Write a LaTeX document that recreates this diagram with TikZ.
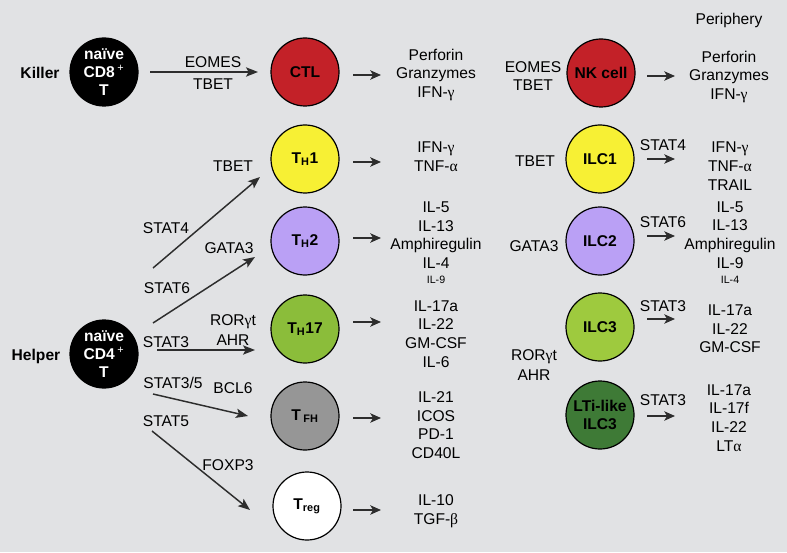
\documentclass[tikz,border=0pt]{standalone}
\usepackage{fontspec}
\setmainfont{Liberation Sans}
\newfontfamily\grk{Liberation Serif}
\usetikzlibrary{arrows.meta}
\definecolor{bg}{RGB}{225,226,228}
\definecolor{ctlred}{RGB}{195,33,40}
\definecolor{thyellow}{RGB}{247,240,52}
\definecolor{lavender}{RGB}{186,160,245}
\definecolor{thgreen}{RGB}{139,189,58}
\definecolor{tfhgray}{RGB}{150,150,150}
\definecolor{ilcgreen}{RGB}{158,202,62}
\definecolor{ltigreen}{RGB}{62,122,54}
\definecolor{arrowgray}{RGB}{45,45,45}
\newcommand{\gam}{{\grk γ}}
\newcommand{\alp}{{\grk α}}
\newcommand{\bet}{{\grk β}}
\begin{document}
\begin{tikzpicture}[x=0.75pt,y=-0.75pt,
  cell/.style={circle,draw=black,line width=0.9pt,minimum size=51pt,inner sep=0pt,
    font=\bfseries\fontsize{11.7}{13.5}\selectfont,align=center},
  txt/.style={font=\fontsize{11.7}{14}\selectfont,align=center,inner sep=0pt},
  lbl/.style={font=\bfseries\fontsize{11.7}{14}\selectfont,inner sep=0pt},
  tinytxt/.style={font=\fontsize{8}{9}\selectfont,inner sep=0pt},
  conn/.style={draw=arrowgray,line width=1.1pt,-{Stealth[length=9pt,width=7pt,inset=2pt]}},
  shortarr/.style={draw=arrowgray,line width=1.3pt,-{Stealth[length=8pt,width=7pt,inset=2pt]}}]

\fill[bg] (0,0) rectangle (787,552);
\useasboundingbox (0,0) rectangle (787,552);

% ---------- headings ----------
\node[txt] (periphery) at (729,20) {Periphery};
\node[lbl] (killer) at (40,73) {Killer};
\node[lbl] (helper) at (36,356) {Helper};

% ---------- naive cells ----------
\node[cell,fill=black,text=white] (cd8) at (104,72) {naïve\\CD8\,\textsuperscript{\mdseries+}\\T};
\node[cell,fill=black,text=white] (cd4) at (104,354) {naïve\\CD4\,\textsuperscript{\mdseries+}\\T};

% ---------- T cells ----------
\node[cell,fill=ctlred] (ctl) at (305,72) {CTL};
\node[cell,fill=thyellow] (th1) at (305,159) {T\textsubscript{H}1};
\node[cell,fill=lavender] (th2) at (305,241) {T\textsubscript{H}2};
\node[cell,fill=thgreen] (th17) at (305,329) {T\textsubscript{H}17};
\node[cell,fill=tfhgray] (tfh) at (305,416) {T\,\textsubscript{FH}};
\node[cell,fill=white] (treg) at (307,506) {T\textsubscript{reg}};

% ---------- ILCs ----------
\node[cell,fill=ctlred] (nk) at (601,73) {NK cell};
\node[cell,fill=thyellow] (ilc1) at (600,159) {ILC1};
\node[cell,fill=lavender] (ilc2) at (600,241) {ILC2};
\node[cell,fill=ilcgreen] (ilc3) at (600,327) {ILC3};
\node[cell,fill=ltigreen] (lti) at (600,415) {LTi-like\\ILC3};

% ---------- CD8 -> CTL ----------
\coordinate (k0) at (150,72);
\coordinate (k1) at (258,72);
\draw[conn] (k0) -- (k1);
\node[txt] (eomesL) at (213,62) {EOMES};
\node[txt] (tbetL) at (213,84) {TBET};

% ---------- CD4 -> helpers ----------
\coordinate (s1) at (153,268); \coordinate (e1) at (260,177);
\coordinate (s2) at (153,323); \coordinate (e2) at (255,257);
\coordinate (s3) at (157,350); \coordinate (e3) at (255,350);
\coordinate (s4) at (153,394); \coordinate (e4) at (248,416);
\coordinate (s5) at (152,431); \coordinate (e5) at (250,510);
\draw[conn] (s1) -- (e1);
\draw[conn] (s2) -- (e2);
\draw[conn] (s3) -- (e3);
\draw[conn] (s4) -- (e4);
\draw[conn] (s5) -- (e5);

\node[txt] (tbet1) at (233,166) {TBET};
\node[txt] (stat4) at (166,228) {STAT4};
\node[txt] (gata3) at (229,248) {GATA3};
\node[txt] (stat6) at (167,288) {STAT6};
\node[txt] (rorL) at (233,322) {ROR\gam t};
\node[txt] (ahrL) at (233,340) {AHR};
\node[txt] (stat3) at (166,342) {STAT3};
\node[txt] (stat35) at (173,383) {STAT3/5};
\node[txt] (bcl6) at (233,388) {BCL6};
\node[txt] (stat5) at (166,421) {STAT5};
\node[txt] (foxp3) at (228,465) {FOXP3};

% ---------- short arrows, left ----------
\foreach \n/\y in {ctl/75,th1/162,th2/238,th17/322,tfh/418,treg/510}{
  \coordinate (\n a) at (353,\y);
  \coordinate (\n b) at (381,\y);
  \draw[shortarr] (\n a) -- (\n b);
}

% ---------- outputs, left ----------
\node[txt] (ctlout) at (436,75) {Perforin\\Granzymes\\IFN-\gam};
\node[txt] (th1out) at (436,157) {IFN-\gam\\TNF-\alp};
\node[txt] (th2out) at (436,235) {IL-5\\IL-13\\Amphiregulin\\IL-4};
\node[tinytxt] (th2il9) at (436,280) {IL-9};
\node[txt] (th17out) at (436,334) {IL-17a\\IL-22\\GM-CSF\\IL-6};
\node[txt] (tfhout) at (436,425) {IL-21\\ICOS\\PD-1\\CD40L};
\node[txt] (tregout) at (436,511) {IL-10\\TGF-\bet};

% ---------- ILC side labels ----------
\node[txt] (eomesR) at (533,67) {EOMES};
\node[txt] (tbetR) at (533,85) {TBET};
\node[txt] (tbetI) at (535,161) {TBET};
\node[txt] (gataI) at (534,246) {GATA3};
\node[txt] (rorI) at (534,357) {ROR\gam t};
\node[txt] (ahrI) at (534,375) {AHR};
\node[txt] (stat4I) at (663,145) {STAT4};
\node[txt] (stat6I) at (663,222) {STAT6};
\node[txt] (stat3I) at (663,306) {STAT3};
\node[txt] (stat3L) at (663,400) {STAT3};

% ---------- short arrows, right ----------
\foreach \n/\y in {nk/76,ilc1/159,ilc2/236,ilc3/319,lti/416}{
  \coordinate (\n a) at (647,\y);
  \coordinate (\n b) at (675,\y);
  \draw[shortarr] (\n a) -- (\n b);
}

% ---------- outputs, right ----------
\node[txt] (nkout) at (729,77) {Perforin\\Granzymes\\IFN-\gam};
\node[txt] (ilc1out) at (730,166) {IFN-\gam\\TNF-\alp\\TRAIL};
\node[txt] (ilc2out) at (730,235) {IL-5\\IL-13\\Amphiregulin\\IL-9};
\node[tinytxt] (ilc2il4) at (730,280) {IL-4};
\node[txt] (ilc3out) at (730,329) {IL-17a\\IL-22\\GM-CSF};
\node[txt] (ltiout) at (729,418) {IL-17a\\IL-17f\\IL-22\\LT\alp};
\end{tikzpicture}
\end{document}
